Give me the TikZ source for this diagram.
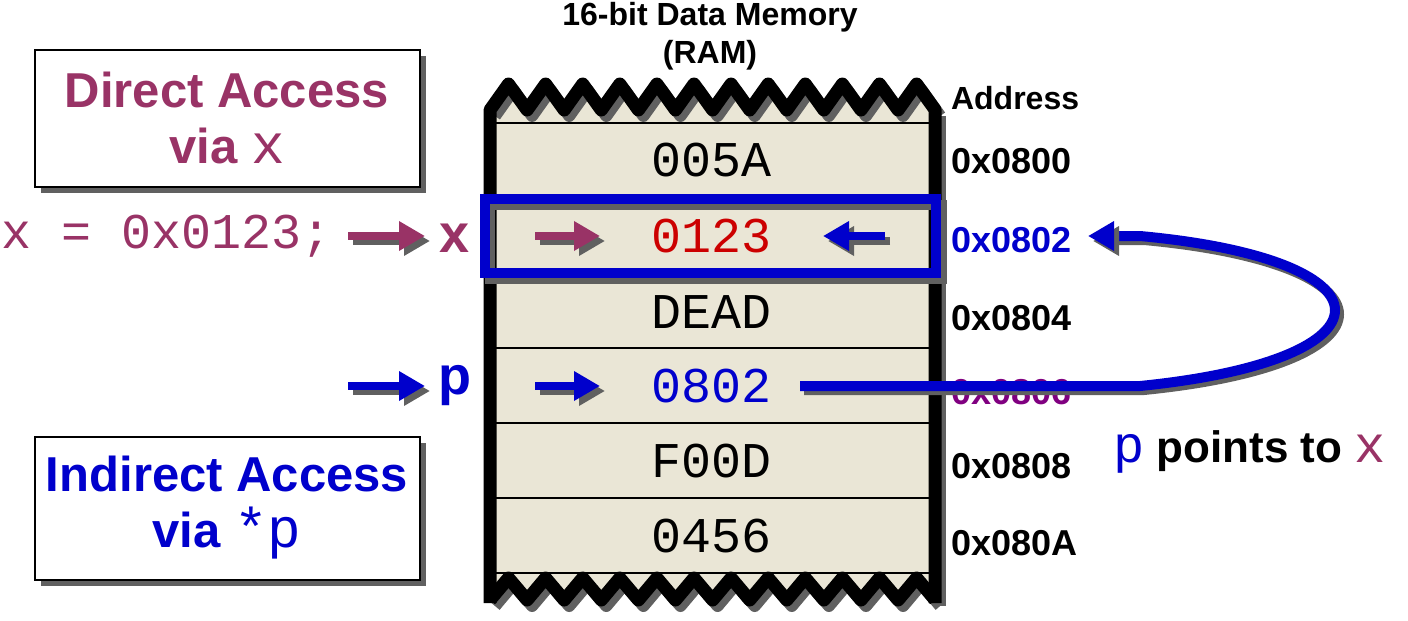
\documentclass[tikz,border=0pt]{standalone}
\usepackage{fontspec}
\setmainfont{Liberation Sans}
\newfontfamily\cour{Liberation Mono}
\usetikzlibrary{arrows.meta}
\definecolor{maroon}{HTML}{993366}
\definecolor{dblue}{HTML}{0000CC}
\definecolor{dred}{HTML}{CC0000}
\definecolor{memfill}{HTML}{EAE6D6}
\definecolor{purp}{HTML}{800080}
\definecolor{shad}{HTML}{606060}
\tikzset{
 box/.style={draw=black,line width=1pt,fill=white},
 big/.style={font=\fontsize{24.5}{28}\selectfont\bfseries,align=center},
 val/.style={font=\fontsize{25}{27}\cour},
 addr/.style={font=\fontsize{18}{20}\selectfont\bfseries,anchor=west},
 arr/.style={line width=4pt,-{Triangle[length=13pt,width=14pt]}},
}
\begin{document}
\begin{tikzpicture}[x=0.5pt,y=-0.5pt]
\useasboundingbox (0,0) rectangle (1408,621);
\node[font=\fontsize{16}{19}\selectfont\bfseries,align=center] (title) at (710,36) {16-bit Data Memory\\(RAM)};
% boxes
\fill[shad] (41,56) rectangle (426,193);
\node[box,minimum width=385*0.5pt,minimum height=137*0.5pt] (dbox) at (227,118) {};
\node[big,text=maroon] (dtxt) at (227,118) {Direct Access\\via {\cour\mdseries\fontsize{28}{28}\selectfont x}};
\fill[shad] (41,443) rectangle (426,586);
\node[box,minimum width=385*0.5pt,minimum height=143*0.5pt] (ibox) at (227,508) {};
\node[big,text=dblue] (itxt) at (227,508) {Indirect Access\\via {\cour\mdseries\fontsize{28}{28}\selectfont *p}};
% memory
\def\zig#1#2{(490,#1) \foreach \i in {0,...,11} {-- ({490+37.1*\i+18.5},#2) -- ({490+37.1*(\i+1)},#1)}}
\fill[memfill] \zig{110}{84} -- (935,600) \foreach \i in {11,...,0} {-- ({490+37.1*\i+18.5},578) -- ({490+37.1*\i},600)} -- cycle;
\foreach \y in {123,273,348,423,498,573} \draw[line width=1pt] (490,\y) -- (935,\y);
\begin{scope}[shift={(5,6)},shad,line width=6pt,line join=round]
\draw \zig{110}{84};
\draw (935,110) -- (935,600);
\draw (490,600) \foreach \i in {0,...,11} {-- ({490+37.1*\i+18.5},578) -- ({490+37.1*(\i+1)},600)};
\end{scope}
\begin{scope}[line width=6.5pt,line join=round]
\draw (490,603) -- (490,110) \foreach \i in {0,...,11} {-- ({490+37.1*\i+18.5},84) -- ({490+37.1*(\i+1)},110)} -- (935,603);
\draw (490,600) \foreach \i in {0,...,11} {-- ({490+37.1*\i+18.5},578) -- ({490+37.1*(\i+1)},600)};
\end{scope}
% highlight
\draw[shad,line width=5pt] (490,205) rectangle (942,279);
\draw[dblue,line width=5pt] (485,199) rectangle (936,273);
% values
\node[val] (v0) at (712,160) {005A};
\node[val,text=dred] (v1) at (712,236) {0123};
\node[val] (v2) at (712,312) {DEAD};
\node[val,text=dblue] (v3) at (712,386) {0802};
\node[val] (v4) at (712,461) {F00D};
\node[val] (v5) at (712,536) {0456};
% addresses
\node[addr,font=\fontsize{16}{18}\selectfont\bfseries] (ah) at (944,98) {Address};
\node[addr] (a0) at (944,161) {0x0800};
\node[addr,text=dblue] (a1) at (944,240) {0x0802};
\node[addr] (a2) at (944,318) {0x0804};
\node[addr,text=purp] (a3) at (944,392) {0x0806};
\node[addr] (a4) at (944,466) {0x0808};
\node[addr] (a5) at (944,543) {0x080A};
% left labels
\node[val,text=maroon,anchor=west] (code) at (-6,236) {x = 0x0123;};
\node[big,text=maroon,font=\fontsize{27}{28}\selectfont\bfseries] (xl) at (455,238) {x};
\node[big,text=dblue,font=\fontsize{27}{28}\selectfont\bfseries] (pl) at (455,386) {p};
\node[font=\fontsize{22}{24}\selectfont\bfseries,anchor=west] (pt) at (1106,452) {{\cour\mdseries\fontsize{26}{26}\selectfont\color{dblue}p} points to {\cour\mdseries\fontsize{26}{26}\selectfont\color{maroon}x}};
% arrows
\coordinate (c1a) at (348,236); \coordinate (c1b) at (425,236);
\coordinate (c2a) at (535,236); \coordinate (c2b) at (600,236);
\coordinate (c3a) at (885,236); \coordinate (c3b) at (823,236);
\coordinate (c4a) at (348,386); \coordinate (c4b) at (425,386);
\coordinate (c5a) at (535,386); \coordinate (c5b) at (600,386);
\foreach \a/\b/\c in {c1a/c1b/maroon,c2a/c2b/maroon,c3a/c3b/dblue,c4a/c4b/dblue,c5a/c5b/dblue}{
 \draw[arr,shad,transform canvas={shift={(2.5pt,-2.5pt)}}] (\a) -- (\b);
 \draw[arr,\c] (\a) -- (\b);
}
% pointer curve
\coordinate (s) at (800,386);
\coordinate (e) at (1088,236);
\begin{scope}[transform canvas={shift={(2pt,-2pt)}}]
\draw[shad,line width=5pt] (s) -- (1140,386) .. controls (1400,360) and (1400,260) .. (1140,236) -- (1110,236);
\end{scope}
\draw[dblue,line width=5pt] (s) -- (1140,386) .. controls (1400,360) and (1400,260) .. (1140,236) -- (1110,236);
\draw[arr,shad,transform canvas={shift={(2.5pt,-2.5pt)}}] (1112,236) -- (e);
\draw[arr,dblue] (1112,236) -- (e);
\end{tikzpicture}
\end{document}
